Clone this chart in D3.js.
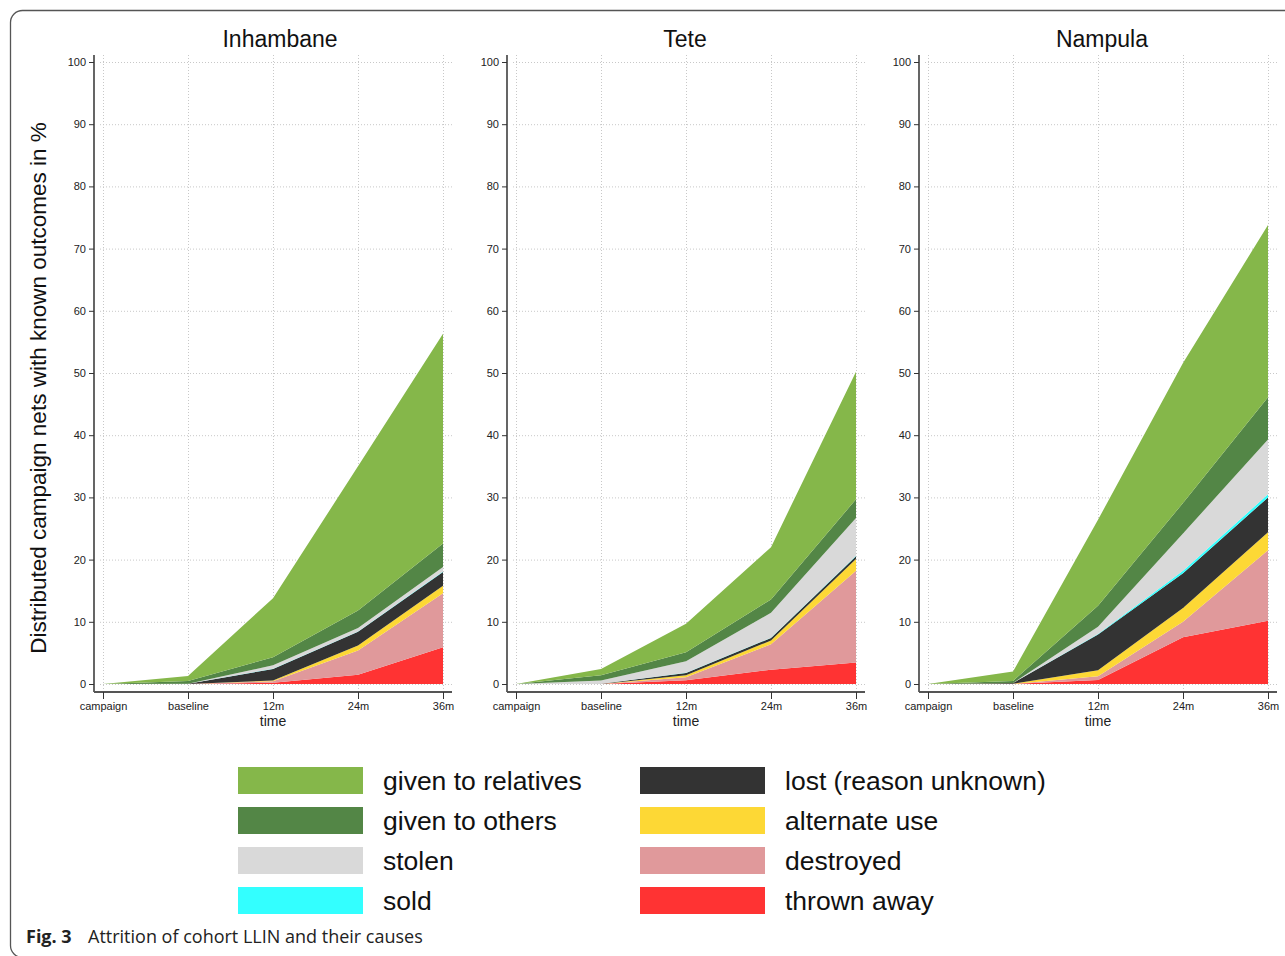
<!DOCTYPE html>
<html>
<head>
<meta charset="utf-8">
<script src="https://cdn.jsdelivr.net/npm/d3@7"></script>
<style>
  body { margin: 0; background: #fff; }
  svg { display: block; font-family: "Liberation Sans", Arial, sans-serif; }
</style>
</head>
<body>
<svg id="chart"></svg>
<script>
// time points on the x axis
const times = ["campaign", "baseline", "12m", "24m", "36m"];
const regions = ["Inhambane", "Tete", "Nampula"];
// stacking order, bottom to top
const causes = ["thrown away", "destroyed", "alternate use", "lost (reason unknown)",
                "sold", "stolen", "given to others", "given to relatives"];
const colors = ["#ff3333", "#e0999b", "#fdd835", "#333333",
                "#33ffff", "#d9d9d9", "#538646", "#85b74a"];
const yTicks = [0, 10, 20, 30, 40, 50, 60, 70, 80, 90, 100];

// % of nets per cause, one value per time point
const inhambane = {
  "thrown away":           [0, 0,    0.2,  1.5,  5.9],
  "destroyed":             [0, 0,    0.25, 3.9,  8.7],
  "alternate use":         [0, 0,    0.1,  0.8,  1.2],
  "lost (reason unknown)": [0, 0.05, 1.85, 2.2,  2.2],
  "sold":                  [0, 0,    0.05, 0.05, 0.1],
  "stolen":                [0, 0,    0.55, 0.55, 0.7],
  "given to others":       [0, 0.45, 1.3,  2.8,  3.8],
  "given to relatives":    [0, 0.8,  9.5,  23.2, 33.7]
};
const tete = {
  "thrown away":           [0, 0,    0.6,  2.3,  3.45],
  "destroyed":             [0, 0,    0.5,  4.1,  14.75],
  "alternate use":         [0, 0,    0.3,  0.6,  1.9],
  "lost (reason unknown)": [0, 0.05, 0.35, 0.4,  0.45],
  "sold":                  [0, 0,    0.05, 0.05, 0.05],
  "stolen":                [0, 0.5,  1.85, 4.0,  6.1],
  "given to others":       [0, 0.85, 1.45, 2.15, 3.0],
  "given to relatives":    [0, 1.0,  4.6,  8.4,  20.5]
};
const nampula = {
  "thrown away":           [0, 0,    0.65, 7.5,  10.15],
  "destroyed":             [0, 0,    0.6,  2.5,  11.35],
  "alternate use":         [0, 0.05, 0.95, 2.2,  2.9],
  "lost (reason unknown)": [0, 0.1,  5.75, 5.6,  5.6],
  "sold":                  [0, 0,    0.1,  0.4,  0.5],
  "stolen":                [0, 0,    1.15, 6.0,  8.8],
  "given to others":       [0, 0.35, 3.4,  4.9,  6.8],
  "given to relatives":    [0, 1.5,  13.8, 22.5, 27.7]
};
const regionData = [inhambane, tete, nampula];

// legend layout: left column then right column
const legendCols = [
  ["given to relatives", "given to others", "stolen", "sold"],
  ["lost (reason unknown)", "alternate use", "destroyed", "thrown away"]
];

const width = 1285, height = 956;
const svg = d3.select("#chart").attr("width", width).attr("height", height)
  .attr("font-family", "'Liberation Sans', Arial, sans-serif");

// outer frame (cut at right and bottom)
svg.append("rect")
  .attr("x", 10.5).attr("y", 10.5)
  .attr("width", 1320).attr("height", 947)
  .attr("rx", 12)
  .attr("fill", "none").attr("stroke", "#555").attr("stroke-width", 1.3);

const color = d3.scaleOrdinal().domain(causes).range(colors);
const y = d3.scaleLinear().domain([0, 100]).range([684, 62]);

const axisLeftX = [94, 507, 919];
const titleX = [280, 685, 1102];

regions.forEach((name, i) => {
  const ax = axisLeftX[i];
  const x = d3.scalePoint().domain(times).range([ax + 9, ax + 349]);
  const g = svg.append("g");

  // grid
  g.append("g").selectAll("line").data(yTicks).join("line")
    .attr("x1", ax + 6).attr("x2", ax + 358)
    .attr("y1", d => y(d) + 0.5).attr("y2", d => y(d) + 0.5)
    .attr("stroke", "#c8c8c8").attr("stroke-dasharray", "1,2");
  g.append("g").selectAll("line").data(times).join("line")
    .attr("x1", d => x(d) + 0.5).attr("x2", d => x(d) + 0.5)
    .attr("y1", 55).attr("y2", 690)
    .attr("stroke", "#c8c8c8").attr("stroke-dasharray", "1,2");

  // stacked areas
  const rows = times.map((t, j) => {
    const r = {time: t};
    causes.forEach(c => r[c] = regionData[i][c][j]);
    return r;
  });
  const series = d3.stack().keys(causes)(rows);
  const area = d3.area()
    .x(d => x(d.data.time))
    .y0(d => y(d[0]))
    .y1(d => y(d[1]));
  g.append("g").selectAll("path").data(series).join("path")
    .attr("fill", d => color(d.key))
    .attr("d", area);

  // axes
  g.append("g")
    .attr("transform", `translate(${ax},0)`)
    .call(d3.axisLeft(y).tickValues(yTicks).tickSize(5).tickPadding(3))
    .call(a => a.select(".domain").attr("d", `M0,55V692`).attr("stroke", "#555").attr("stroke-width", 1.8))
    .call(a => a.selectAll(".tick line").attr("stroke", "#333"))
    .call(a => a.selectAll("text").attr("font-size", 11).attr("fill", "#222")
      .attr("font-family", "'Liberation Sans', Arial, sans-serif"));

  g.append("g")
    .attr("transform", "translate(0,692)")
    .call(d3.axisBottom(x).tickSize(7).tickPadding(3))
    .call(a => a.select(".domain").attr("d", `M${ax},0H${ax + 358}`).attr("stroke", "#555").attr("stroke-width", 1.8))
    .call(a => a.selectAll(".tick line").attr("stroke", "#333"))
    .call(a => a.selectAll("text").attr("font-size", 11).attr("fill", "#222")
      .attr("font-family", "'Liberation Sans', Arial, sans-serif"));

  g.append("text")
    .attr("x", x("12m")).attr("y", 726)
    .attr("text-anchor", "middle").attr("font-size", 14).attr("fill", "#222")
    .text("time");

  g.append("text")
    .attr("x", titleX[i]).attr("y", 47)
    .attr("text-anchor", "middle").attr("font-size", 23).attr("fill", "#111")
    .text(name);
});

// y axis title
svg.append("text")
  .attr("transform", "translate(46,388) rotate(-90)")
  .attr("text-anchor", "middle").attr("font-size", 22.5).attr("fill", "#111")
  .text("Distributed campaign nets with known outcomes in %");

// legend
const legendX = [238, 640];
legendCols.forEach((col, ci) => {
  const lg = svg.append("g").selectAll("g").data(col).join("g")
    .attr("transform", (d, k) => `translate(${legendX[ci]},${767 + k * 40})`);
  lg.append("rect").attr("width", 125).attr("height", 27).attr("fill", d => color(d));
  lg.append("text").attr("x", 145).attr("y", 23)
    .attr("font-size", 26.5).attr("fill", "#111").text(d => d);
});

// caption
const cap = svg.append("text")
  .attr("x", 26).attr("y", 943)
  .attr("font-family", "'Open Sans', 'Noto Sans', sans-serif")
  .attr("font-size", 18).attr("fill", "#222");
cap.append("tspan").attr("font-weight", "bold").text("Fig. 3");
cap.append("tspan").attr("x", 88).text("Attrition of cohort LLIN and their causes");
</script>
</body>
</html>
